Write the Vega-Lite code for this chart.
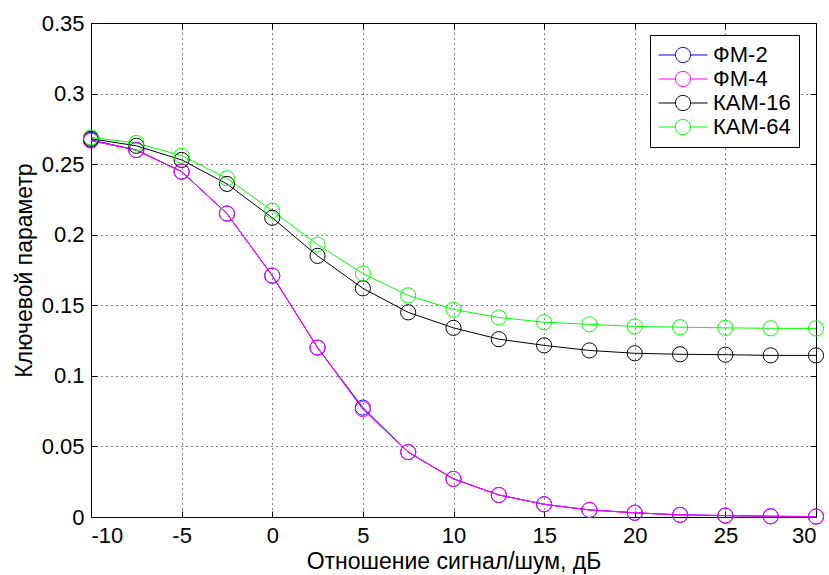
{
  "$schema": "https://vega.github.io/schema/vega-lite/v6.json",
  "autosize": "none",
  "width": 725,
  "height": 494,
  "padding": {"left": 91, "top": 23, "right": 13, "bottom": 58},
  "background": "white",
  "config": {
    "font": "Liberation Sans",
    "view": {"stroke": "black", "strokeWidth": 1},
    "axis": {
      "gridColor": "black",
      "gridOpacity": 1,
      "gridDash": [1, 4],
      "gridWidth": 1,
      "domain": false,
      "tickColor": "black",
      "tickSize": -6,
      "labelColor": "black",
      "labelFont": "Liberation Sans",
      "labelFontSize": 22,
      "titleFont": "Liberation Sans",
      "titleFontSize": 23,
      "titleFontWeight": "normal",
      "titleColor": "black"
    }
  },
  "data": {
    "values": [
      {"snr": -10, "series": "ФМ-2", "v": 0.2672},
      {"snr": -7.5, "series": "ФМ-2", "v": 0.260},
      {"snr": -5, "series": "ФМ-2", "v": 0.2447},
      {"snr": -2.5, "series": "ФМ-2", "v": 0.215},
      {"snr": 0, "series": "ФМ-2", "v": 0.171},
      {"snr": 2.5, "series": "ФМ-2", "v": 0.120},
      {"snr": 5, "series": "ФМ-2", "v": 0.0775},
      {"snr": 7.5, "series": "ФМ-2", "v": 0.046},
      {"snr": 10, "series": "ФМ-2", "v": 0.027},
      {"snr": 12.5, "series": "ФМ-2", "v": 0.0156},
      {"snr": 15, "series": "ФМ-2", "v": 0.009},
      {"snr": 17.5, "series": "ФМ-2", "v": 0.005},
      {"snr": 20, "series": "ФМ-2", "v": 0.003},
      {"snr": 22.5, "series": "ФМ-2", "v": 0.0015},
      {"snr": 25, "series": "ФМ-2", "v": 0.001},
      {"snr": 27.5, "series": "ФМ-2", "v": 0.0005},
      {"snr": 30, "series": "ФМ-2", "v": 0.0003},
      {"snr": -10, "series": "ФМ-4", "v": 0.2666},
      {"snr": -7.5, "series": "ФМ-4", "v": 0.260},
      {"snr": -5, "series": "ФМ-4", "v": 0.2447},
      {"snr": -2.5, "series": "ФМ-4", "v": 0.215},
      {"snr": 0, "series": "ФМ-4", "v": 0.171},
      {"snr": 2.5, "series": "ФМ-4", "v": 0.120},
      {"snr": 5, "series": "ФМ-4", "v": 0.0764},
      {"snr": 7.5, "series": "ФМ-4", "v": 0.046},
      {"snr": 10, "series": "ФМ-4", "v": 0.027},
      {"snr": 12.5, "series": "ФМ-4", "v": 0.0156},
      {"snr": 15, "series": "ФМ-4", "v": 0.009},
      {"snr": 17.5, "series": "ФМ-4", "v": 0.005},
      {"snr": 20, "series": "ФМ-4", "v": 0.003},
      {"snr": 22.5, "series": "ФМ-4", "v": 0.0015},
      {"snr": 25, "series": "ФМ-4", "v": 0.001},
      {"snr": 27.5, "series": "ФМ-4", "v": 0.0005},
      {"snr": 30, "series": "ФМ-4", "v": 0.0003},
      {"snr": -10, "series": "КАМ-16", "v": 0.268},
      {"snr": -7.5, "series": "КАМ-16", "v": 0.263},
      {"snr": -5, "series": "КАМ-16", "v": 0.253},
      {"snr": -2.5, "series": "КАМ-16", "v": 0.236},
      {"snr": 0, "series": "КАМ-16", "v": 0.212},
      {"snr": 2.5, "series": "КАМ-16", "v": 0.185},
      {"snr": 5, "series": "КАМ-16", "v": 0.162},
      {"snr": 7.5, "series": "КАМ-16", "v": 0.145},
      {"snr": 10, "series": "КАМ-16", "v": 0.134},
      {"snr": 12.5, "series": "КАМ-16", "v": 0.126},
      {"snr": 15, "series": "КАМ-16", "v": 0.1216},
      {"snr": 17.5, "series": "КАМ-16", "v": 0.118},
      {"snr": 20, "series": "КАМ-16", "v": 0.116},
      {"snr": 22.5, "series": "КАМ-16", "v": 0.1153},
      {"snr": 25, "series": "КАМ-16", "v": 0.115},
      {"snr": 27.5, "series": "КАМ-16", "v": 0.1145},
      {"snr": 30, "series": "КАМ-16", "v": 0.1145},
      {"snr": -10, "series": "КАМ-64", "v": 0.269},
      {"snr": -7.5, "series": "КАМ-64", "v": 0.265},
      {"snr": -5, "series": "КАМ-64", "v": 0.256},
      {"snr": -2.5, "series": "КАМ-64", "v": 0.240},
      {"snr": 0, "series": "КАМ-64", "v": 0.217},
      {"snr": 2.5, "series": "КАМ-64", "v": 0.193},
      {"snr": 5, "series": "КАМ-64", "v": 0.1725},
      {"snr": 7.5, "series": "КАМ-64", "v": 0.157},
      {"snr": 10, "series": "КАМ-64", "v": 0.147},
      {"snr": 12.5, "series": "КАМ-64", "v": 0.1414},
      {"snr": 15, "series": "КАМ-64", "v": 0.138},
      {"snr": 17.5, "series": "КАМ-64", "v": 0.1365},
      {"snr": 20, "series": "КАМ-64", "v": 0.135},
      {"snr": 22.5, "series": "КАМ-64", "v": 0.1345},
      {"snr": 25, "series": "КАМ-64", "v": 0.134},
      {"snr": 27.5, "series": "КАМ-64", "v": 0.1337},
      {"snr": 30, "series": "КАМ-64", "v": 0.1336}
    ]
  },
  "resolve": {"axis": {"x": "independent", "y": "independent"}},
  "layer": [
    {
      "mark": {"type": "line", "strokeWidth": 1, "clip": false},
      "encoding": {
        "x": {
          "field": "snr", "type": "quantitative",
          "scale": {"domain": [-10, 30], "nice": false},
          "axis": {"orient": "bottom", "grid": true, "values": [-10, -5, 0, 5, 10, 15, 20, 25, 30], "labelExpr": "replace(datum.label, '−', '-')", "title": "Отношение сигнал/шум, дБ", "labelPadding": 14, "titlePadding": 4}
        },
        "y": {
          "field": "v", "type": "quantitative",
          "scale": {"domain": [0, 0.35], "nice": false},
          "axis": {"orient": "left", "grid": true, "values": [0, 0.05, 0.1, 0.15, 0.2, 0.25, 0.3, 0.35], "format": "~g", "title": "Ключевой параметр", "labelPadding": 13, "titlePadding": 5}
        },
        "color": {
          "field": "series", "type": "nominal",
          "scale": {"domain": ["ФМ-2", "ФМ-4", "КАМ-16", "КАМ-64"], "range": ["#0000ff", "#ff00ff", "#000000", "#00ff00"]},
          "legend": {
            "title": null,
            "orient": "none",
            "legendX": 559,
            "legendY": 12,
            "symbolType": "M-1,0H-0.31M0.31,0H1M-0.31,0A0.31,0.31 0 1,1 0.31,0A0.31,0.31 0 1,1 -0.31,0",
            "symbolSize": 2401,
            "symbolStrokeWidth": 1,
            "symbolFillColor": "transparent",
            "clipHeight": 24,
            "labelOffset": 5,
            "labelFontSize": 22,
            "labelFont": "Liberation Sans",
            "labelColor": "black",
            "strokeColor": "black",
            "fillColor": "white",
            "padding": 8,
            "rowPadding": 0
          }
        }
      }
    },
    {
      "transform": [{"filter": "datum.series === 'ФМ-4'"}],
      "mark": {"type": "line", "strokeWidth": 1, "clip": false},
      "encoding": {
        "x": {"field": "snr", "type": "quantitative", "axis": null},
        "y": {"field": "v", "type": "quantitative", "axis": null},
        "color": {"field": "series", "type": "nominal"}
      }
    },
    {
      "mark": {"type": "point", "shape": "circle", "filled": false, "size": 230, "strokeWidth": 1, "opacity": 1, "clip": false},
      "encoding": {
        "x": {"field": "snr", "type": "quantitative", "axis": null},
        "y": {"field": "v", "type": "quantitative", "axis": null},
        "color": {"field": "series", "type": "nominal"}
      }
    },
    {
      "mark": {"type": "point", "opacity": 0},
      "encoding": {
        "x": {"field": "snr", "type": "quantitative", "axis": {"orient": "top", "grid": false, "labels": false, "title": null, "values": [-10, -5, 0, 5, 10, 15, 20, 25, 30]}},
        "y": {"field": "v", "type": "quantitative", "axis": {"orient": "right", "grid": false, "labels": false, "title": null, "values": [0, 0.05, 0.1, 0.15, 0.2, 0.25, 0.3, 0.35]}}
      }
    }
  ]
}
